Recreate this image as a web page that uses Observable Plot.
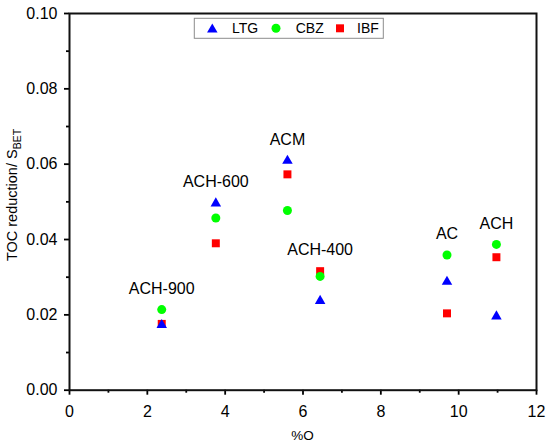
<!DOCTYPE html>
<html><head><meta charset="utf-8">
<script src="https://cdn.jsdelivr.net/npm/d3@7"></script>
<script src="https://cdn.jsdelivr.net/npm/@observablehq/plot@0.6"></script>
<style>
body{margin:0;background:#fff;}
#chart svg{display:block;}
</style>
</head><body><div id="chart"></div>
<script>
// ---- data ----
const samples = ["ACH-900","ACH-600","ACM","ACH-400","AC","ACH"];
const oxygen  = [2.37, 3.76, 5.60, 6.44, 9.70, 10.97];   // %O
const ltg     = [0.0173, 0.0496, 0.0609, 0.0237, 0.0288, 0.0196];
const cbz     = [0.0214, 0.0457, 0.0477, 0.0302, 0.0359, 0.0387];
const ibf     = [0.0176, 0.0390, 0.0573, 0.0316, 0.0204, 0.0353];
const seriesNames = ["LTG","CBZ","IBF"];
const xTicks = [0,2,4,6,8,10,12];
const xMinor = [1,3,5,7,9,11];
const yTicks = [0,0.02,0.04,0.06,0.08,0.10];
const yMinor = [0.01,0.03,0.05,0.07,0.09];

// ---- styles ----
const colors  = {LTG:"#0000ff", CBZ:"#00ff00", IBF:"#ff0000"};
const symbols = {LTG:"triangle", CBZ:"circle", IBF:"square"};
const radius  = {LTG:3.9, CBZ:4.5, IBF:4.5};
const values  = {LTG:ltg, CBZ:cbz, IBF:ibf};
const FONT = "Liberation Sans, Arial, Helvetica, sans-serif";

const rows = name => samples.map((s,i)=>({sample:s, o:oxygen[i], v:values[name][i]}));
const labelRows = samples.map((s,i)=>({sample:s, o:oxygen[i], top:Math.max(ltg[i],cbz[i],ibf[i])}));
const dotMark = name => Plot.dot(rows(name), {x:"o", y:"v", symbol:symbols[name], r:radius[name], fill:colors[name], stroke:"none"});

const W = 550, H = 446;
const chart = Plot.plot({
  width: W, height: H,
  marginLeft: 69, marginRight: 14, marginTop: 13, marginBottom: 56.3,
  style: {fontFamily: FONT, fontSize: "16px", color: "#000", background: "#fff"},
  x: {domain:[0,12]},
  y: {domain:[0,0.10]},
  marks: [
    Plot.axisX({ticks:xTicks, tickSize:5, tickPadding:10, strokeWidth:1.8, fontSize:16, label:null}),
    Plot.axisX({ticks:xMinor, tickSize:3, strokeWidth:1.8, tickFormat:()=>"", label:null}),
    Plot.axisY({ticks:yTicks, tickSize:5, tickPadding:7, strokeWidth:1.8, fontSize:16, tickFormat:d3.format(".2f"), label:null}),
    Plot.axisY({ticks:yMinor, tickSize:3, strokeWidth:1.8, tickFormat:()=>"", label:null}),
    dotMark("IBF"),
    dotMark("CBZ"),
    dotMark("LTG"),
    Plot.text(labelRows, {x:"o", y:"top", text:"sample", dy:-21, fontSize:16, fill:"#000"}),
    Plot.frame({stroke:"#111", strokeWidth:2})
  ]
});

const svg = d3.select(chart);
// y-axis title with subscript
const yt = svg.append("text")
  .attr("transform","translate(17,195) rotate(-90)")
  .attr("text-anchor","middle")
  .attr("font-family",FONT).attr("font-size",14.5).attr("fill","#000");
yt.append("tspan").text("TOC reduction/ S");
yt.append("tspan").attr("font-size",10.5).attr("dy",3.5).text("BET");

// x-axis title
svg.append("text")
  .attr("x",302.5).attr("y",439.5)
  .attr("text-anchor","middle")
  .attr("font-family",FONT).attr("font-size",13.5).attr("fill","#000")
  .text("%O");

// legend box
const lg = svg.append("g");
lg.append("rect").attr("x",194.3).attr("y",18.3).attr("width",189).attr("height",20)
  .attr("fill","#fff").attr("stroke","#8c8c8c").attr("stroke-width",1);
const symMap = {triangle:d3.symbolTriangle, circle:d3.symbolCircle, square:d3.symbolSquare};
const legendPos = [{sx:212.3, tx:232}, {sx:276, tx:295.7}, {sx:340, tx:357}];
seriesNames.forEach((name,i)=>{
  const r = radius[name];
  lg.append("path")
    .attr("d", d3.symbol(symMap[symbols[name]], Math.PI*r*r)())
    .attr("transform",`translate(${legendPos[i].sx},${name==="LTG"?29.5:28.3})`)
    .attr("fill",colors[name]);
  lg.append("text").attr("x",legendPos[i].tx).attr("y",33.3)
    .attr("text-anchor","start")
    .attr("font-family",FONT).attr("font-size",14).attr("fill","#000")
    .text(name);
});

document.getElementById("chart").appendChild(chart);
</script>
</body></html>
